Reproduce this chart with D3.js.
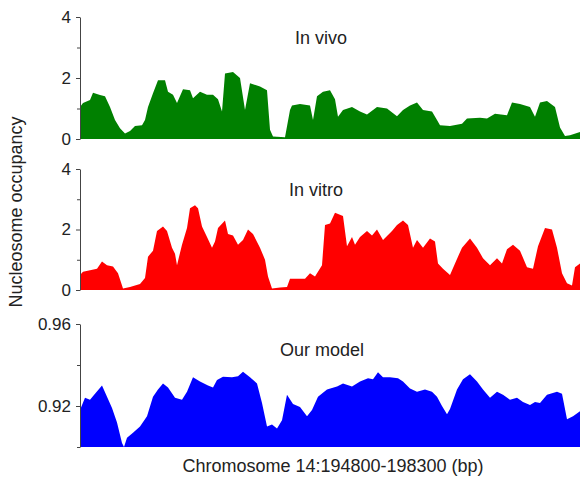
<!DOCTYPE html>
<html>
<head>
<meta charset="utf-8">
<script src="https://cdn.jsdelivr.net/npm/d3@7"></script>
<style>
  body { margin: 0; background: #fff; }
  text { font-family: "Liberation Sans", Arial, sans-serif; fill: #222; }
</style>
</head>
<body>
<script>
// Data: [position (bp), occupancy]
var inVivo = [[194800,1.05],[194821,1.18],[194870,1.28],[194891,1.52],[194940,1.44],[194975,1.4],[195010,1.05],[195045,0.62],[195080,0.35],[195115,0.18],[195150,0.26],[195185,0.43],[195234,0.45],[195255,0.62],[195276,1.05],[195311,1.5],[195346,1.93],[195395,1.93],[195416,1.55],[195451,1.45],[195479,1.18],[195521,1.63],[195570,1.6],[195591,1.34],[195640,1.55],[195689,1.45],[195731,1.45],[195766,1.3],[195794,0.9],[195815,2.15],[195871,2.2],[195920,2.0],[195955,0.95],[195990,1.83],[196060,1.72],[196109,1.6],[196130,0.3],[196151,0.08],[196235,0.06],[196270,0.95],[196284,1.1],[196340,1.15],[196410,1.1],[196431,0.62],[196459,1.4],[196501,1.55],[196550,1.6],[196585,1.3],[196606,0.73],[196641,0.95],[196704,1.05],[196760,0.9],[196809,0.8],[196879,1.05],[196949,1.0],[197019,0.75],[197061,0.95],[197110,1.1],[197159,1.2],[197201,0.95],[197264,0.9],[197299,0.62],[197320,0.45],[197390,0.43],[197474,0.5],[197509,0.67],[197600,0.7],[197649,0.67],[197705,0.83],[197789,0.78],[197824,1.2],[197880,1.15],[197950,1.05],[197985,0.73],[198020,1.2],[198069,1.25],[198125,1.05],[198160,0.38],[198195,0.1],[198230,0.12],[198300,0.23]];

var inVitro = [[194800,0.5],[194821,0.6],[194870,0.65],[194919,0.7],[194954,0.94],[194989,0.82],[195031,0.78],[195066,0.55],[195101,0.05],[195150,0.1],[195220,0.2],[195255,0.4],[195276,1.1],[195311,1.3],[195339,1.95],[195381,2.1],[195409,1.95],[195444,1.4],[195465,1.2],[195479,0.82],[195514,1.5],[195549,2.05],[195570,2.7],[195605,2.8],[195626,2.7],[195654,2.1],[195689,1.75],[195724,1.4],[195745,1.6],[195766,2.05],[195815,2.3],[195836,1.85],[195871,1.8],[195906,1.5],[195941,1.65],[195976,2.0],[196011,1.85],[196060,1.4],[196095,1.0],[196116,0.45],[196144,0.05],[196200,0.08],[196249,0.1],[196270,0.37],[196375,0.37],[196410,0.55],[196445,0.45],[196494,0.82],[196515,2.15],[196550,2.2],[196585,2.55],[196641,2.45],[196669,1.45],[196704,1.75],[196725,1.5],[196760,1.75],[196809,1.95],[196844,1.8],[196879,2.0],[196921,1.65],[196984,1.95],[197019,2.15],[197061,2.3],[197096,2.15],[197131,1.4],[197159,1.65],[197201,1.4],[197250,1.7],[197285,1.6],[197306,0.88],[197341,0.7],[197390,0.5],[197425,0.88],[197474,1.4],[197530,1.7],[197579,1.4],[197621,1.05],[197670,0.82],[197719,1.05],[197754,0.88],[197789,1.35],[197831,1.5],[197880,1.3],[197929,0.75],[197971,0.7],[198006,1.45],[198055,2.05],[198104,2.0],[198139,1.4],[198174,0.55],[198209,0.22],[198244,0.15],[198265,0.75],[198300,0.88]];

var ourModel = [[194800,0.918],[194835,0.924],[194870,0.923],[194905,0.926],[194954,0.930],[194989,0.9245],[195024,0.919],[195059,0.912],[195094,0.902],[195108,0.900],[195129,0.9045],[195171,0.907],[195220,0.910],[195269,0.915],[195311,0.9245],[195346,0.928],[195381,0.931],[195416,0.929],[195465,0.924],[195514,0.923],[195549,0.927],[195591,0.934],[195640,0.932],[195696,0.930],[195731,0.929],[195759,0.9327],[195801,0.9343],[195864,0.934],[195906,0.9345],[195941,0.9367],[195990,0.934],[196039,0.931],[196074,0.9215],[196109,0.910],[196144,0.911],[196179,0.909],[196214,0.913],[196249,0.9255],[196291,0.921],[196340,0.9195],[196389,0.915],[196424,0.918],[196466,0.9245],[196529,0.928],[196599,0.9295],[196641,0.931],[196704,0.9295],[196760,0.932],[196816,0.9335],[196851,0.933],[196886,0.9365],[196921,0.934],[196970,0.934],[197026,0.9335],[197061,0.932],[197110,0.9285],[197159,0.927],[197215,0.928],[197264,0.927],[197299,0.9245],[197334,0.920],[197369,0.916],[197390,0.9185],[197439,0.928],[197481,0.933],[197530,0.9355],[197579,0.932],[197621,0.928],[197670,0.924],[197719,0.927],[197761,0.9255],[197810,0.923],[197859,0.924],[197901,0.922],[197950,0.9205],[197985,0.922],[198020,0.9215],[198069,0.9255],[198139,0.927],[198174,0.926],[198209,0.9135],[198251,0.915],[198300,0.9175]];

var xDomain = [194800, 198300];
var panelNames = ["In vivo", "In vitro", "Our model"];
var majorTicks = [[0, 2, 4], [0, 2, 4], [0.92, 0.96]];
var minorTicks = [[1, 3], [1, 3], [0.90, 0.94]];
var yDomains = [[0, 4], [0, 4], [0.90, 0.96]];

var width = 580, height = 478;

var svg = d3.select("body")
            .append("svg")
            .attr("width", width)
            .attr("height", height);

var x = d3.scaleLinear().domain(xDomain).range([80, 580]);

// vertical extent of each panel: [bottom, top]
var panels = [
  {data: inVivo,   color: "#008000", y0: 139, y1: 17,  fmt: d3.format("d"),   label: [321, 44]},
  {data: inVitro,  color: "#ff0000", y0: 290, y1: 169, fmt: d3.format("d"),   label: [316, 196]},
  {data: ourModel, color: "#0000ff", y0: 447, y1: 324, fmt: d3.format(".2f"), label: [322, 356]}
];

panels.forEach(function(p, i) {
  var y = d3.scaleLinear().domain(yDomains[i]).range([p.y0, p.y1]);

  var area = d3.area()
               .x(function(d) { return x(d[0]); })
               .y0(p.y0)
               .y1(function(d) { return y(d[1]); });

  svg.append("path")
     .datum(p.data)
     .attr("d", area)
     .attr("fill", p.color);

  var minor = svg.append("g")
                 .attr("transform", "translate(80,0)")
                 .call(d3.axisLeft(y).tickValues(minorTicks[i]).tickSize(3).tickFormat(""));
  minor.select(".domain").remove();
  minor.selectAll("line").attr("stroke", "#444");

  var major = svg.append("g")
                 .attr("transform", "translate(80,0)")
                 .call(d3.axisLeft(y).tickValues(majorTicks[i]).tickSize(4).tickPadding(5)
                         .tickFormat(p.fmt).tickSizeOuter(0));
  major.select(".domain").attr("stroke", "#444");
  major.selectAll("line").attr("stroke", "#444");
  major.selectAll("text")
       .style("font-family", "'Liberation Sans', Arial, sans-serif")
       .style("font-size", "17px")
       .attr("fill", "#222");

  svg.append("text")
     .attr("x", p.label[0])
     .attr("y", p.label[1])
     .attr("text-anchor", "middle")
     .style("font-size", "18px")
     .text(panelNames[i]);
});

svg.append("text")
   .attr("x", 333)
   .attr("y", 472)
   .attr("text-anchor", "middle")
   .style("font-size", "18px")
   .text("Chromosome 14:194800-198300 (bp)");

svg.append("text")
   .attr("transform", "translate(22,212) rotate(-90)")
   .attr("text-anchor", "middle")
   .style("font-size", "18px")
   .text("Nucleosome occupancy");
</script>
</body>
</html>
